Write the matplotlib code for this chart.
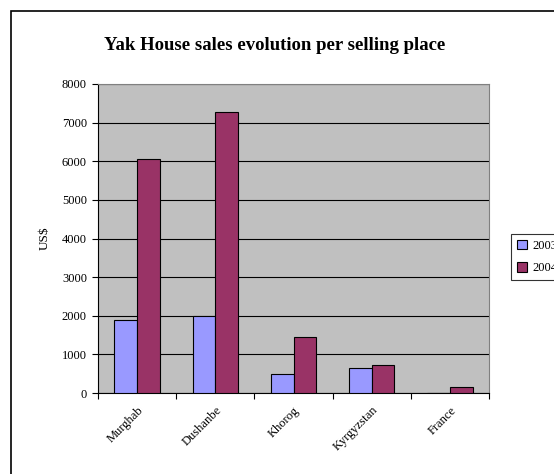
import numpy as np
import matplotlib.pyplot as plt
import matplotlib.transforms as mtransforms
from matplotlib.patches import Rectangle

plt.rcParams['font.family'] = ['Liberation Serif', 'DejaVu Serif']

places = ['Murghab', 'Dushanbe', 'Khorog', 'Kyrgyzstan', 'France']
sales_2003 = [1890, 2000, 490, 660, 0]
sales_2004 = [6050, 7270, 1460, 720, 160]
years = ['2003', '2004']

fig = plt.figure(figsize=(5.54, 4.74), dpi=100)
fig.patches.append(Rectangle((11/554, -0.1), 1.2, 1 - 11/474 + 0.1,
                             transform=fig.transFigure, fill=False,
                             edgecolor='black', linewidth=1.2))

ax = fig.add_axes([98/554, 1 - 393/474, 391/554, 309/474])
ax.set_facecolor('#C0C0C0')

x = np.arange(len(places))
w = 0.29
ax.bar(x - w/2, sales_2003, w, color='#9999FF', edgecolor='black', linewidth=0.8, label=years[0], zorder=3)
ax.bar(x + w/2, sales_2004, w, color='#993366', edgecolor='black', linewidth=0.8, label=years[1], zorder=3)

ax.set_xlim(-0.5, len(places) - 0.5)
ax.set_ylim(0, 8000)
ax.set_yticks(np.arange(0, 8001, 1000))
ax.yaxis.grid(True, color='black', linewidth=0.8, zorder=1)
ax.set_axisbelow(True)

ax.set_xticks(x)
ax.set_xticklabels(places, rotation=45, ha='right', rotation_mode='anchor', fontsize=9)
shift = mtransforms.ScaledTranslation(-15/100, 0, fig.dpi_scale_trans)
for lbl in ax.get_xticklabels():
    lbl.set_transform(lbl.get_transform() + shift)
ax.set_xticks(np.arange(-0.5, len(places)), minor=True)
ax.tick_params(axis='x', which='major', length=0, pad=8)
ax.tick_params(axis='x', which='minor', length=4, width=0.8)
ax.tick_params(axis='y', length=4, width=0.8, labelsize=9, pad=4)

for s in ['left', 'bottom']:
    ax.spines[s].set_color('black')
for s in ['top', 'right']:
    ax.spines[s].set_color('#808080')

ax.set_ylabel('US$', fontsize=9.5, labelpad=8)
fig.text(275/554, 1 - 45/474, 'Yak House sales evolution per selling place',
         ha='center', va='center', fontsize=13.5, fontweight='bold')

leg = fig.legend(loc='center left', bbox_to_anchor=(511/554, 1 - 257/474),
                 borderaxespad=0, fontsize=9, frameon=True, fancybox=False,
                 handlelength=0.8, handleheight=0.8, handletextpad=0.4,
                 borderpad=0.5, labelspacing=0.8)
leg.get_frame().set_edgecolor('black')
leg.get_frame().set_linewidth(0.8)

fig.savefig('out.png', dpi=100)
